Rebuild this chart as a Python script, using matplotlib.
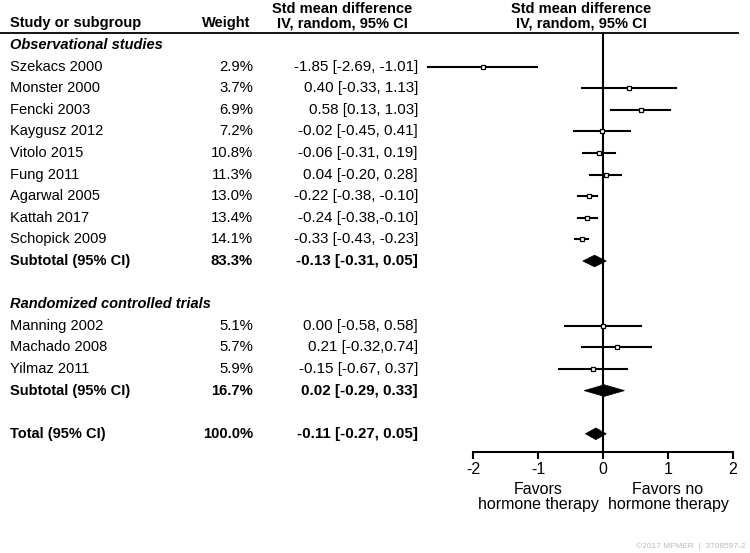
import numpy as np
import matplotlib
matplotlib.use("Agg")
import matplotlib.pyplot as plt
from matplotlib.lines import Line2D
from matplotlib.patches import Polygon

plt.rcParams['font.family'] = ['Liberation Sans', 'DejaVu Sans']

# study data (rows in order)
obs_names = ['Szekacs 2000', 'Monster 2000', 'Fencki 2003', 'Kaygusz 2012', 'Vitolo 2015',
             'Fung 2011', 'Agarwal 2005', 'Kattah 2017', 'Schopick 2009']
obs_weight = [2.9, 3.7, 6.9, 7.2, 10.8, 11.3, 13.0, 13.4, 14.1]
obs_smd = [-1.85, 0.40, 0.58, -0.02, -0.06, 0.04, -0.22, -0.24, -0.33]
obs_lo = [-2.69, -0.33, 0.13, -0.45, -0.31, -0.20, -0.38, -0.38, -0.43]
obs_hi = [-1.01, 1.13, 1.03, 0.41, 0.19, 0.28, -0.10, -0.10, -0.23]
obs_ci_text = ['-1.85 [-2.69, -1.01]', '0.40 [-0.33, 1.13]', '0.58 [0.13, 1.03]',
               '-0.02 [-0.45, 0.41]', '-0.06 [-0.31, 0.19]', '0.04 [-0.20, 0.28]',
               '-0.22 [-0.38, -0.10]', '-0.24 [-0.38,-0.10]', '-0.33 [-0.43, -0.23]']

rct_names = ['Manning 2002', 'Machado 2008', 'Yilmaz 2011']
rct_weight = [5.1, 5.7, 5.9]
rct_smd = [0.00, 0.21, -0.15]
rct_lo = [-0.58, -0.32, -0.67]
rct_hi = [0.58, 0.74, 0.37]
rct_ci_text = ['0.00 [-0.58, 0.58]', '0.21 [-0.32,0.74]', '-0.15 [-0.67, 0.37]']

# pooled estimates: subtotal obs, subtotal rct, total
pooled_names = ['Subtotal (95% CI)', 'Subtotal (95% CI)', 'Total (95% CI)']
pooled_weight = [83.3, 16.7, 100.0]
pooled_smd = [-0.13, 0.02, -0.11]
pooled_lo = [-0.31, -0.29, -0.27]
pooled_hi = [0.05, 0.33, 0.05]
pooled_ci_text = ['-0.13 [-0.31, 0.05]', '0.02 [-0.29, 0.33]', '-0.11 [-0.27, 0.05]']

W, H = 750, 553
fig = plt.figure(figsize=(7.5, 5.53), dpi=100)

# forest axis placed in pixel coordinates
x0, x1 = 473, 733
ytop, ybot = 33, 452
ax = fig.add_axes([x0 / W, (H - ybot) / H, (x1 - x0) / W, (ybot - ytop) / H])
row0, rowh = 45, 21.6
ax.set_xlim(-2, 2)
ax.set_ylim((ybot - row0) / rowh, (ytop - row0) / rowh)

fs = 10.5      # names
fs_w = 10.7    # weight column
fs_ci = 10.9   # CI column

def fx(px):
    return px / W

def fy(px):
    return 1 - px / H

trans = matplotlib.transforms.blended_transform_factory(fig.transFigure, ax.transData)
trans_xd = matplotlib.transforms.blended_transform_factory(ax.transData, fig.transFigure)

def row_text(row, name, weight, ci, bold=False):
    fw = 'bold' if bold else 'normal'
    ax.text(fx(10), row, name, transform=trans, ha='left', va='center', fontsize=fs, fontweight=fw, clip_on=False)
    ax.text(fx(253), row, weight, transform=trans, ha='right', va='center', fontsize=fs_w, fontweight=fw, clip_on=False)
    ax.text(fx(418), row, ci, transform=trans, ha='right', va='center', fontsize=fs_ci, fontweight=fw, clip_on=False)

def study(row, w, m, lo, hi):
    ax.plot([lo, hi], [row, row], color='black', lw=1.5, clip_on=False, zorder=3)
    ms = 3.2 + 0.015 * w
    ax.plot(m, row, marker='s', ms=ms, mfc='white', mec='black', mew=0.9, clip_on=False, zorder=4)

def diamond(row, m, lo, hi, h=0.27):
    poly = Polygon([[lo, row], [m, row - h], [hi, row], [m, row + h]], closed=True,
                   facecolor='black', edgecolor='black', lw=0.5, zorder=4, clip_on=False)
    ax.add_patch(poly)

# section headings
ax.text(fx(10), 0, 'Observational studies', transform=trans, ha='left', va='center',
        fontsize=fs, fontweight='bold', fontstyle='italic')
ax.text(fx(10), 12, 'Randomized controlled trials', transform=trans, ha='left', va='center',
        fontsize=fs, fontweight='bold', fontstyle='italic')

for i in range(len(obs_names)):
    r = 1 + i
    row_text(r, obs_names[i], '%.1f%%' % obs_weight[i], obs_ci_text[i])
    study(r, obs_weight[i], obs_smd[i], obs_lo[i], obs_hi[i])

for i in range(len(rct_names)):
    r = 13 + i
    row_text(r, rct_names[i], '%.1f%%' % rct_weight[i], rct_ci_text[i])
    study(r, rct_weight[i], rct_smd[i], rct_lo[i], rct_hi[i])

pooled_rows = [10, 16, 18]
for i, r in enumerate(pooled_rows):
    row_text(r, pooled_names[i], '%.1f%%' % pooled_weight[i], pooled_ci_text[i], bold=True)
    diamond(r, pooled_smd[i], pooled_lo[i], pooled_hi[i])

# zero line
ax.axvline(0, color='black', lw=1.5, zorder=2)

# axis styling
for s in ['top', 'right', 'left']:
    ax.spines[s].set_visible(False)
ax.spines['bottom'].set_linewidth(1.5)
ax.set_yticks([])
ax.set_xticks([-2, -1, 0, 1, 2])
ax.set_xticklabels(['-2', '-1', '0', '1', '2'])
ax.tick_params(axis='x', direction='out', length=5, width=1.5, labelsize=11.5, pad=2)

ax.text(-1, fy(497), 'Favors\nhormone therapy', transform=trans_xd,
        ha='center', va='center', fontsize=11.5, linespacing=1.05)
ax.text(1, fy(497), 'Favors no\nhormone therapy', transform=trans_xd,
        ha='center', va='center', fontsize=11.5, linespacing=1.05)

# header
fig.text(fx(10), fy(23), 'Study or subgroup', ha='left', va='center', fontsize=fs, fontweight='bold')
fig.text(fx(250), fy(23), 'Weight', ha='right', va='center', fontsize=fs, fontweight='bold')
fig.text(fx(342), fy(16), 'Std mean difference\nIV, random, 95% CI', ha='center', va='center',
         fontsize=fs, fontweight='bold', linespacing=1.0)
fig.text(fx(581), fy(16), 'Std mean difference\nIV, random, 95% CI', ha='center', va='center',
         fontsize=fs, fontweight='bold', linespacing=1.0)
fig.add_artist(Line2D([0, fx(738)], [fy(33), fy(33)], color='black', lw=1.3, transform=fig.transFigure))

# watermark
fig.text(fx(745), fy(546), '\u00a92017 MFMER  |  3708597-2', ha='right', va='center', fontsize=6, color='#bbbbbb')

fig.savefig('out.png', dpi=100)
